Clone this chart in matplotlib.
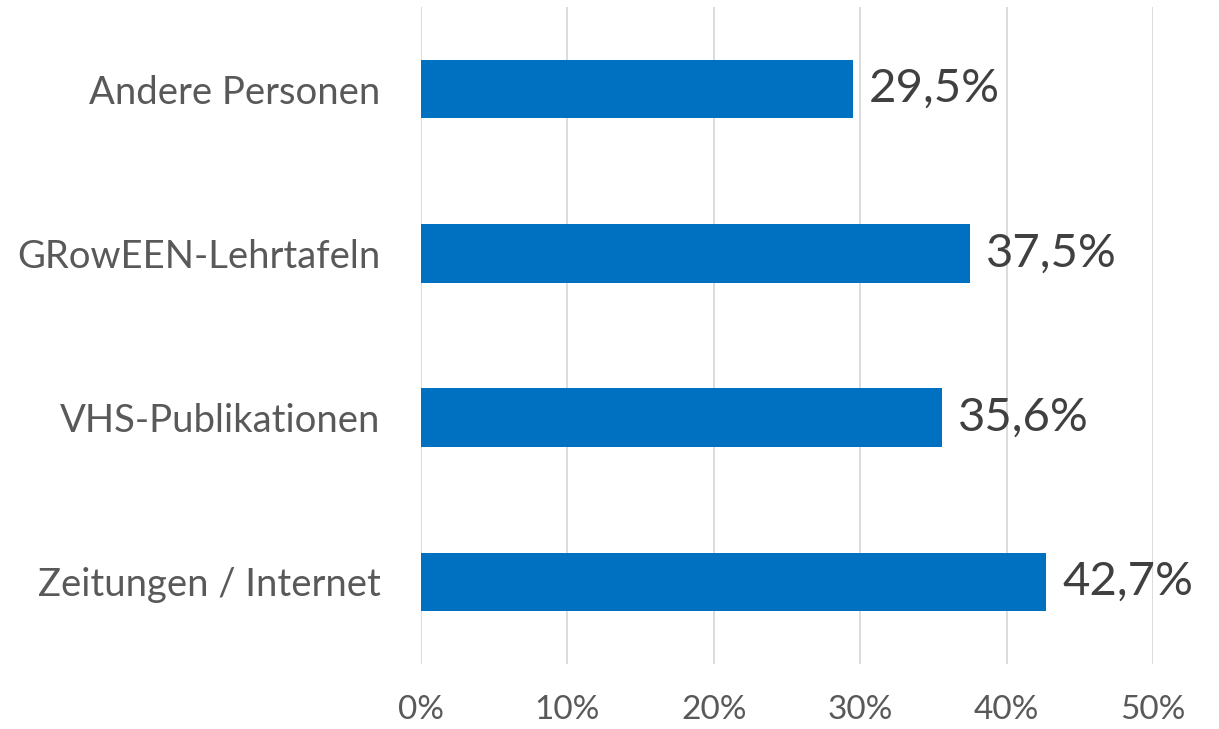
import matplotlib
matplotlib.use("Agg")
import matplotlib.pyplot as plt

categories = ["Zeitungen / Internet", "VHS-Publikationen", "GRowEEN-Lehrtafeln", "Andere Personen"]
values = [42.7, 35.6, 37.5, 29.5]
value_labels = ["42,7%", "35,6%", "37,5%", "29,5%"]
xticks = [0, 10, 20, 30, 40, 50]
xtick_labels = ["0%", "10%", "20%", "30%", "40%", "50%"]

plt.rcParams['font.family'] = ['Lato', 'DejaVu Sans']

fig = plt.figure(figsize=(12.19, 7.29), dpi=100)
ax = fig.add_axes([421/1219, 1-664/729, 732/1219, 657/729])

y = list(range(len(categories)))
ax.barh(y, values, height=0.355, color="#0070C0", zorder=3)
for yi, v, lab in zip(y, values, value_labels):
    ax.text(v + 1.1, yi, lab, va="center", ha="left", fontsize=34, color="#404040")

ax.set_xlim(0, 50)
ax.set_ylim(-0.5, 3.5)
ax.set_xticks(xticks)
ax.set_xticklabels(xtick_labels, fontsize=24, color="#595959")
ax.set_yticks(y)
ax.set_yticklabels(categories, fontsize=27.5, color="#595959")
ax.tick_params(axis="both", length=0)
ax.tick_params(axis="y", pad=29)
ax.tick_params(axis="x", pad=22)
ax.grid(axis="x", color="#D9D9D9", linewidth=1.3, zorder=0)
for s in ax.spines.values():
    s.set_visible(False)

fig.savefig("out.png", dpi=100)
